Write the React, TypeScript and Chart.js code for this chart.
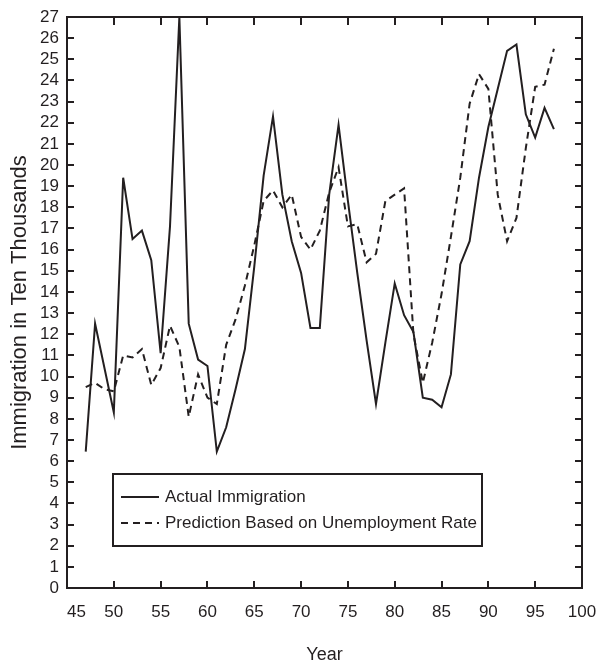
import React, { useEffect, useRef } from "react";
import { Chart, registerables } from "chart.js";

Chart.register(...registerables);

const years = [
  47, 48, 49, 50, 51, 52, 53, 54, 55, 56, 57, 58, 59, 60, 61, 62, 63, 64, 65, 66,
  67, 68, 69, 70, 71, 72, 73, 74, 75, 76, 77, 78, 79, 80, 81, 82, 83, 84, 85, 86,
  87, 88, 89, 90, 91, 92, 93, 94, 95, 96, 97,
];

const actualImmigration = [
  6.45, 12.5, 10.4, 8.3, 19.4, 16.5, 16.9, 15.5, 11.1, 17.1, 27.0, 12.5, 10.8, 10.5, 6.45, 7.6, 9.4, 11.3, 15.2, 19.5,
  22.3, 18.6, 16.4, 14.9, 12.3, 12.3, 18.6, 21.9, 18.3, 14.9, 11.7, 8.7, 11.6, 14.4, 12.9, 12.1, 9.0, 8.9, 8.55, 10.1,
  15.3, 16.4, 19.4, 21.8, 23.6, 25.4, 25.7, 22.4, 21.3, 22.7, 21.7,
];

const predictedImmigration = [
  9.5, 9.7, 9.4, 9.3, 11.0, 10.9, 11.3, 9.6, 10.4, 12.4, 11.4, 8.1, 10.1, 9.0, 8.7, 11.5, 12.7, 14.3, 16.2, 18.3,
  18.8, 18.0, 18.6, 16.6, 16.0, 16.9, 18.7, 19.9, 17.1, 17.2, 15.4, 15.8, 18.3, 18.6, 18.9, 12.0, 9.7, 11.6, 13.9, 16.6,
  19.4, 22.9, 24.3, 23.6, 18.6, 16.4, 17.5, 20.8, 23.7, 23.8, 25.5,
];

const seriesLabels = ["Actual Immigration", "Prediction Based on Unemployment Rate"];
const xTitle = "Year";
const yTitle = "Immigration in Ten Thousands";
const xMin = 45;
const xMax = 100;
const yMin = 0;
const yMax = 27;

const INK = "#231f20";
const FONT = "'Liberation Sans', Arial, sans-serif";

const frameAndTicks = {
  id: "frameAndTicks",
  afterDatasetsDraw(chart: any) {
    const { ctx, chartArea } = chart;
    const { left, right, top, bottom } = chartArea;
    const xs = chart.scales.x;
    const ys = chart.scales.y;
    ctx.save();
    ctx.strokeStyle = INK;
    ctx.lineWidth = 2;
    ctx.lineCap = "butt";
    ctx.beginPath();
    ys.ticks.forEach((t: any) => {
      if (t.value <= yMin || t.value >= yMax) return;
      const y = Math.round(ys.getPixelForValue(t.value));
      ctx.moveTo(left, y);
      ctx.lineTo(left + 7, y);
      ctx.moveTo(right, y);
      ctx.lineTo(right - 7, y);
    });
    xs.ticks.forEach((t: any) => {
      if (t.value <= xMin || t.value >= xMax) return;
      const x = Math.round(xs.getPixelForValue(t.value));
      ctx.moveTo(x, bottom);
      ctx.lineTo(x, bottom - 7);
      ctx.moveTo(x, top);
      ctx.lineTo(x, top + 8);
    });
    ctx.stroke();
    ctx.strokeRect(left, top, right - left, bottom - top);
    ctx.restore();
  },
};

const boxLegend = {
  id: "boxLegend",
  afterDraw(chart: any) {
    const { ctx, chartArea } = chart;
    const bx = chartArea.left + 46;
    const bw = 369;
    const by = 474;
    const bh = 72;
    ctx.save();
    ctx.fillStyle = "#ffffff";
    ctx.fillRect(bx, by, bw, bh);
    ctx.strokeStyle = INK;
    ctx.lineWidth = 2;
    ctx.strokeRect(bx, by, bw, bh);
    chart.data.datasets.forEach((ds: any, i: number) => {
      const cy = by + 23 + i * 26;
      ctx.beginPath();
      ctx.lineWidth = 2;
      ctx.setLineDash(ds.borderDash || []);
      ctx.moveTo(bx + 8, cy);
      ctx.lineTo(bx + 46, cy);
      ctx.stroke();
      ctx.setLineDash([]);
      ctx.fillStyle = INK;
      ctx.font = `17px ${FONT}`;
      ctx.textBaseline = "middle";
      ctx.textAlign = "left";
      ctx.fillText(ds.label, bx + 52, cy);
    });
    ctx.restore();
  },
};

export default function App() {
  const canvasRef = useRef<HTMLCanvasElement | null>(null);

  useEffect(() => {
    const canvas = canvasRef.current;
    if (!canvas) return;
    const chart = new Chart(canvas, {
      type: "line",
      data: {
        datasets: [
          {
            label: seriesLabels[0],
            data: years.map((yr, i) => ({ x: yr, y: actualImmigration[i] })),
            borderColor: INK,
            borderWidth: 2,
            pointRadius: 0,
            tension: 0,
            fill: false,
          },
          {
            label: seriesLabels[1],
            data: years.map((yr, i) => ({ x: yr, y: predictedImmigration[i] })),
            borderColor: INK,
            borderWidth: 2,
            borderDash: [7, 5],
            pointRadius: 0,
            tension: 0,
            fill: false,
          },
        ],
      },
      options: {
        animation: false,
        responsive: false,
        maintainAspectRatio: false,
        events: [],
        layout: { padding: { top: 17, right: 0, left: 0, bottom: 0 } },
        plugins: {
          legend: { display: false },
          tooltip: { enabled: false },
        },
        scales: {
          x: {
            type: "linear",
            min: xMin,
            max: xMax,
            grid: { display: false, drawTicks: false },
            border: { display: false },
            ticks: {
              stepSize: 5,
              padding: 14,
              color: INK,
              font: { family: FONT, size: 17 },
              maxRotation: 0,
              autoSkip: false,
              callback: (v: any) => (Number(v) === xMin ? "    " + v : String(v)),
            },
            title: {
              display: true,
              text: xTitle,
              color: INK,
              font: { family: FONT, size: 18 },
              padding: { top: 3, bottom: 0 },
            },
            afterFit: (s: any) => {
              s.height = 78;
              s.paddingLeft = 0;
              s.paddingRight = 14;
            },
          },
          y: {
            type: "linear",
            min: yMin,
            max: yMax,
            grid: { display: false, drawTicks: false },
            border: { display: false },
            ticks: {
              stepSize: 1,
              padding: 8,
              color: INK,
              font: { family: FONT, size: 17 },
              autoSkip: false,
            },
            title: {
              display: true,
              text: yTitle,
              color: INK,
              font: { family: FONT, size: 22 },
              padding: { top: 7, bottom: 0 },
            },
            afterFit: (s: any) => {
              s.width = 67;
              s.paddingTop = 0;
              s.paddingBottom = 0;
            },
          },
        },
      },
      plugins: [frameAndTicks, boxLegend],
    });
    return () => chart.destroy();
  }, []);

  return (
    <div style={{ position: "absolute", left: 0, top: 0, width: 596, height: 666, background: "#fff" }}>
      <canvas ref={canvasRef} width={596} height={666} style={{ width: 596, height: 666, display: "block" }} />
    </div>
  );
}
